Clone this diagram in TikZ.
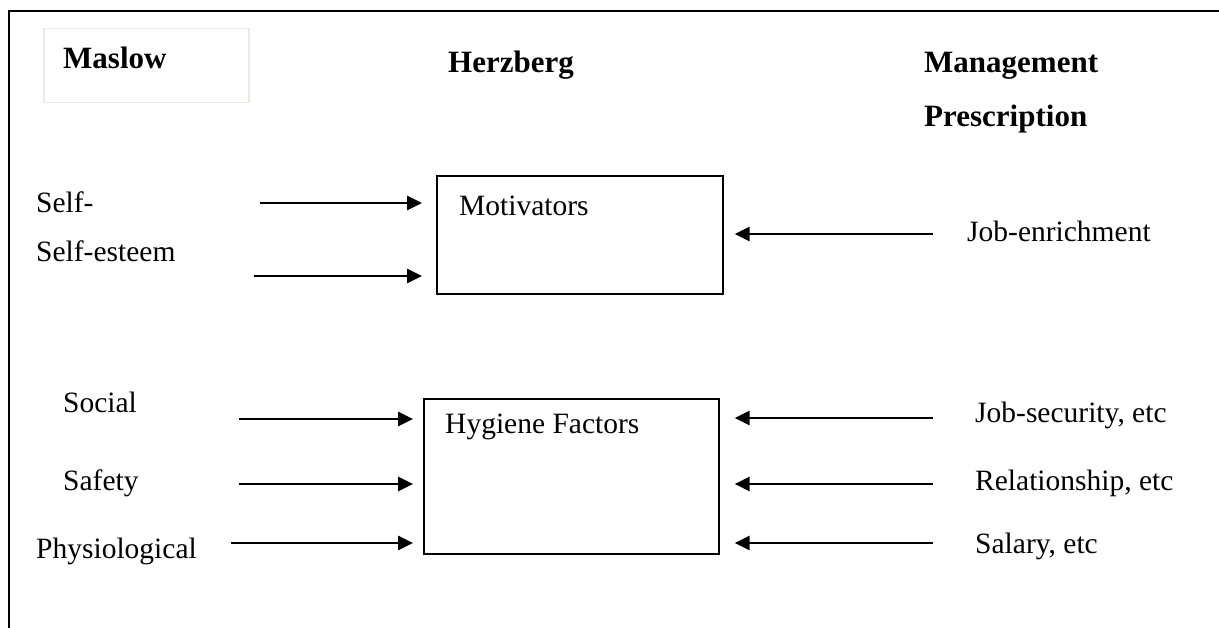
\documentclass[tikz,border=0pt]{standalone}
\usepackage{fontspec}
\setmainfont{Liberation Serif}
\usetikzlibrary{arrows.meta}
\definecolor{paleframe}{HTML}{ECE9DF}
\begin{document}
\begin{tikzpicture}[x=1pt,y=-1pt,
  lbl/.style={anchor=base west, inner sep=0pt, font=\fontsize{29.5}{32}\selectfont},
  head/.style={anchor=base west, inner sep=0pt, font=\fontsize{31}{34}\selectfont\bfseries},
  factorbox/.style={draw, line width=1.6pt, anchor=north west, inner sep=0pt},
  feed/.style={line width=2.8pt, -{Triangle[length=15pt,width=14pt]}}
]
\useasboundingbox (0,0) rectangle (1219,628);

% page frame: top and left rules only
\draw[line width=2.4pt] (1219,11) -- (9,11) -- (9,628);

% column headings
\node[draw=paleframe, line width=1.5pt, anchor=north west, inner sep=0pt,
      minimum width=205pt, minimum height=74pt] (maslowbox) at (43,28) {};
\node[head] (maslow) at (63,69) {Maslow};
\node[head] (herzberg) at (448,73) {Herzberg};
\node[head] (mgmt) at (924,73) {Management};
\node[head] (prescr) at (924,127) {Prescription};

% Herzberg factor boxes
\node[factorbox, minimum width=286pt, minimum height=118pt] (mot) at (436,175) {};
\node[lbl] (motlbl) at (459,216) {Motivators};
\node[factorbox, minimum width=295pt, minimum height=155pt] (hyg) at (423,398) {};
\node[lbl] (hyglbl) at (445,434) {Hygiene Factors};

% Maslow needs
\node[lbl] (selfact) at (36,213) {Self-};
\node[lbl] (selfest) at (36,262) {Self-esteem};
\node[lbl] (social) at (63,413) {Social};
\node[lbl] (safety) at (63,490) {Safety};
\node[lbl] (physio) at (36,558) {Physiological};

% management prescriptions
\node[lbl] (jobenr) at (967,242) {Job-enrichment};
\node[lbl] (jobsec) at (975,422) {Job-security, etc};
\node[lbl] (relat) at (975,490) {Relationship, etc};
\node[lbl] (salary) at (975,553) {Salary, etc};

% arrow tails
\coordinate (tSelfact) at (260,203);
\coordinate (tSelfest) at (254,276);
\coordinate (tSocial) at (239,419);
\coordinate (tSafety) at (239,484);
\coordinate (tPhysio) at (231,543);
\coordinate (tJobenr) at (933,234);
\coordinate (tJobsec) at (933,418);
\coordinate (tRelat) at (933,484);
\coordinate (tSalary) at (933,543);

% needs feeding the factor boxes
\draw[feed, shorten >=14pt] (tSelfact) -- (tSelfact -| mot.west);
\draw[feed, shorten >=14pt] (tSelfest) -- (tSelfest -| mot.west);
\draw[feed, shorten >=10pt] (tSocial) -- (tSocial -| hyg.west);
\draw[feed, shorten >=10pt] (tSafety) -- (tSafety -| hyg.west);
\draw[feed, shorten >=10pt] (tPhysio) -- (tPhysio -| hyg.west);

% prescriptions pointing back at the factor boxes
\draw[feed, shorten >=11pt] (tJobenr) -- (tJobenr -| mot.east);
\draw[feed, shorten >=15pt] (tJobsec) -- (tJobsec -| hyg.east);
\draw[feed, shorten >=15pt] (tRelat) -- (tRelat -| hyg.east);
\draw[feed, shorten >=15pt] (tSalary) -- (tSalary -| hyg.east);
\end{tikzpicture}
\end{document}
